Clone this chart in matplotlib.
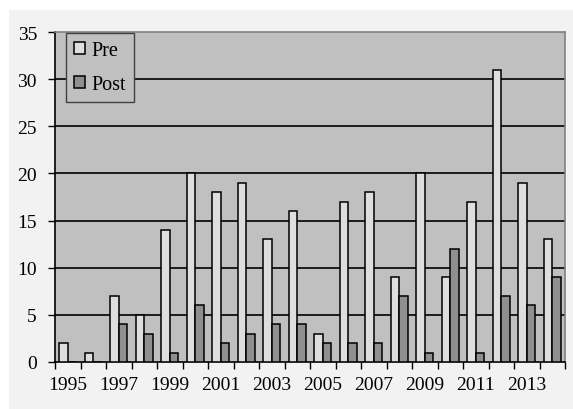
import matplotlib
matplotlib.use("Agg")
import matplotlib.pyplot as plt
from matplotlib.patches import Rectangle
import numpy as np

years = list(range(1995, 2015))
pre = [2, 1, 7, 5, 14, 20, 18, 19, 13, 16, 3, 17, 18, 9, 20, 9, 17, 31, 19, 13]
post = [0, 0, 4, 3, 1, 6, 2, 3, 4, 4, 2, 2, 2, 7, 1, 12, 1, 7, 6, 9]
year_labels = [str(y) for y in years[::2]]
y_ticks = [0, 5, 10, 15, 20, 25, 30, 35]

plt.rcParams['font.family'] = ['Liberation Serif', 'DejaVu Serif']

fig = plt.figure(figsize=(5.73, 4.10), dpi=100)
fig.patch.set_facecolor('white')
# light grey chart area panel behind the axes
panel = Rectangle((9 / 573, 0), 1 - 9 / 573, 1 - 11 / 410,
                  transform=fig.transFigure, facecolor='#f2f2f2',
                  edgecolor='none', zorder=-10)
fig.add_artist(panel)

ax = fig.add_axes([55 / 573, 1 - 363 / 410, 510 / 573, 330 / 410])
ax.set_zorder(1)
ax.set_facecolor('#c0c0c0')

x = np.arange(len(years))
w = 1 / 3
ax.bar(x - w / 2, pre, width=w, color='#dedede', edgecolor='black',
       linewidth=1.1, label='Pre', zorder=3)
ax.bar(x + w / 2, post, width=w, color='#8f8f8f', edgecolor='black',
       linewidth=1.1, label='Post', zorder=3)

ax.set_ylim(0, 35)
ax.set_xlim(-0.5, len(years) - 0.5)
ax.set_yticks(y_ticks)
ax.set_yticklabels([str(v) for v in y_ticks], fontsize=14)
for v in y_ticks[1:-1]:
    ax.axhline(v, color='black', linewidth=1.2, zorder=1)

# tick marks on category boundaries, labels on every other category
ax.set_xticks(np.arange(len(years) + 1) - 0.5)
ax.set_xticklabels([])
ax.set_xticks(x[::2], minor=True)
ax.set_xticklabels(year_labels, minor=True, fontsize=14)
ax.tick_params(axis='x', which='major', direction='out', length=5, width=1, color='black')
ax.tick_params(axis='x', which='minor', length=0, pad=10)
ax.tick_params(axis='y', direction='out', length=5, width=1, pad=8)

for side in ['left', 'bottom']:
    ax.spines[side].set_color('black')
    ax.spines[side].set_linewidth(1.2)
for side in ['top', 'right']:
    ax.spines[side].set_color('#808080')
    ax.spines[side].set_linewidth(1.2)

leg = ax.legend(loc='upper left', bbox_to_anchor=(11 / 510, 1 - 1 / 330),
                fontsize=14.5, frameon=True, fancybox=False,
                borderaxespad=0, handlelength=0.55, handleheight=0.55,
                handletextpad=0.3, borderpad=0.4, labelspacing=0.75)
leg.get_frame().set_facecolor('#c0c0c0')
leg.get_frame().set_edgecolor('#404040')
leg.get_frame().set_linewidth(1.0)
leg.get_frame().set_alpha(1)
leg.set_zorder(5)

fig.savefig('out.png', dpi=100, facecolor=fig.get_facecolor())
